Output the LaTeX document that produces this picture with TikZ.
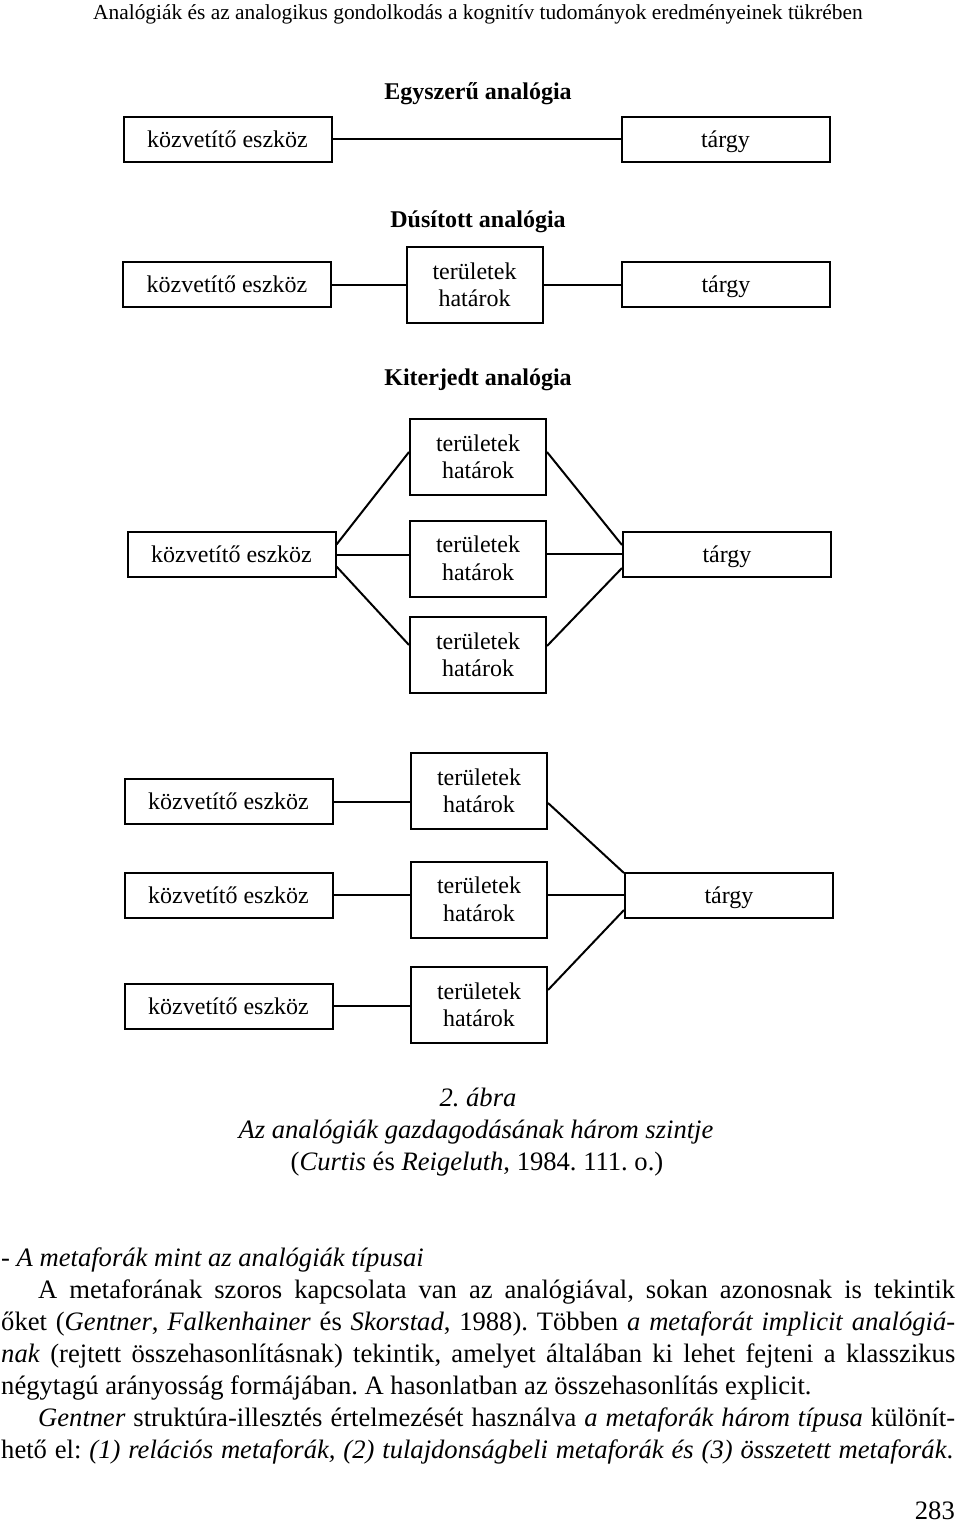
\documentclass[tikz,border=0pt]{standalone}
\usepackage{fontspec}
\setmainfont{Liberation Serif}
\usetikzlibrary{calc,positioning}
\frenchspacing
\tikzset{
	%Define style for boxes
	doboz/.style={
		rectangle,
		draw=black, line width=2pt,
		minimum width=208pt,
		minimum height=45pt,
		text height=20pt, text depth=4pt,
		inner sep=0pt,
		font=\fontsize{24}{27.5}\selectfont},
	terulet/.style={
		rectangle,
		draw=black, line width=2pt,
		minimum width=136pt,
		minimum height=76pt,
		inner sep=0pt,
		align=center,
		font=\fontsize{24}{27.5}\selectfont},
	%Define style for texts
	cim/.style={anchor=base, inner sep=0pt, font=\fontsize{24}{28}\selectfont\bfseries},
	alairas/.style={anchor=base, inner sep=0pt, font=\fontsize{26.6}{32}\selectfont},
	szoveg/.style={anchor=base west, inner sep=0pt, font=\fontsize{26.6}{32}\selectfont},
	% Define line style
	vonal/.style={line width=2pt}
}

\begin{document}
\begin{tikzpicture}[x=1pt,y=-1pt]
	\fill[white] (0,0) rectangle (960,1525);
	% header
	\node[anchor=base, inner sep=0pt, font=\fontsize{21.4}{24}\selectfont] (fejlec) at (478,20) {Analógiák és az analogikus gondolkodás a kognitív tudományok eredményeinek tükrében};
	% Egyszeru analogia
	\node[cim] (cim1) at (478,100) {Egyszerű analógia};
	\node[doboz] (kozv1) at (227.5,139.5) {közvetítő eszköz};
	\node[doboz] (targy1) at (725.5,139.5) {tárgy};
	\draw[vonal] (kozv1) -- (targy1);
	% Dusitott analogia
	\node[cim] (cim2) at (478,227) {Dúsított analógia};
	\node[doboz] (kozv2) at (227,284.5) {közvetítő eszköz};
	\node[terulet] (mid2) at (474.5,285) {területek\\határok};
	\node[doboz] (targy2) at (726,284.5) {tárgy};
	\draw[vonal] (kozv2.east) -- (kozv2.east -| mid2.west);
	\draw[vonal] (mid2.east |- targy2.west) -- (targy2.west);
	% Kiterjedt analogia
	\node[cim] (cim3) at (478,385) {Kiterjedt analógia};
	\node[doboz] (kozv3) at (231.5,554.5) {közvetítő eszköz};
	\node[terulet] (mid3a) at (478,457) {területek\\határok};
	\node[terulet] (mid3b) at (478,558.5) {területek\\határok};
	\node[terulet] (mid3c) at (478,655) {területek\\határok};
	\node[doboz] (targy3) at (727,554) {tárgy};
	\draw[vonal] ([yshift=10pt]kozv3.east) -- ([yshift=5pt]mid3a.west);
	\draw[vonal] (kozv3.east) -- (kozv3.east -| mid3b.west);
	\draw[vonal] ([yshift=-12pt]kozv3.east) -- ([yshift=10pt]mid3c.west);
	\draw[vonal] ([yshift=5pt]mid3a.east) -- ([yshift=9pt]targy3.west);
	\draw[vonal] (mid3b.east |- targy3.west) -- (targy3.west);
	\draw[vonal] ([yshift=9pt]mid3c.east) -- ([yshift=-14pt]targy3.west);
	% negyedik abra
	\node[doboz] (kozv4a) at (228.5,801.5) {közvetítő eszköz};
	\node[doboz] (kozv4b) at (228.5,895) {közvetítő eszköz};
	\node[doboz] (kozv4c) at (228.5,1006) {közvetítő eszköz};
	\node[terulet] (mid4a) at (479,791) {területek\\határok};
	\node[terulet] (mid4b) at (479,899.5) {területek\\határok};
	\node[terulet] (mid4c) at (479,1005) {területek\\határok};
	\node[doboz] (targy4) at (729,895) {tárgy};
	\draw[vonal] (kozv4a.east) -- (kozv4a.east -| mid4a.west);
	\draw[vonal] (kozv4b.east) -- (kozv4b.east -| mid4b.west);
	\draw[vonal] (kozv4c.east) -- (kozv4c.east -| mid4c.west);
	\draw[vonal] ([yshift=-12pt]mid4a.east) -- ([yshift=22pt]targy4.west);
	\draw[vonal] (mid4b.east |- targy4.west) -- (targy4.west);
	\draw[vonal] ([yshift=15pt]mid4c.east) -- ([yshift=-15pt]targy4.west);
	% caption
	\node[alairas] (abra) at (478,1106) {\textit{2. ábra}};
	\node[alairas] (abracim) at (476,1138) {\textit{Az analógiák gazdagodásának három szintje}};
	\node[alairas] (forras) at (477,1170) {(\textit{Curtis} és \textit{Reigeluth}, 1984. 111. o.)};
	% body text
	\node[szoveg] (sor1) at (1,1266) {- \textit{A metaforák mint az analógiák típusai}};
	\node[szoveg] (sor2) at (38,1298) {\makebox[917pt][s]{A metaforának szoros kapcsolata van az analógiával, sokan azonosnak is tekintik}};
	\node[szoveg] (sor3) at (1,1330) {\makebox[954pt][s]{őket (\textit{Gentner}, \textit{Falkenhainer} és \textit{Skorstad}, 1988). Többen \textit{a metaforát implicit analógiá-}}};
	\node[szoveg] (sor4) at (1,1362) {\makebox[954pt][s]{\textit{nak} (rejtett összehasonlításnak) tekintik, amelyet általában ki lehet fejteni a klasszikus}};
	\node[szoveg] (sor5) at (1,1394) {négytagú arányosság formájában. A hasonlatban az összehasonlítás explicit.};
	\node[szoveg] (sor6) at (38,1426) {\makebox[917pt][s]{\textit{Gentner} struktúra-illesztés értelmezését használva \textit{a metaforák három típusa} különít-}};
	\node[szoveg] (sor7) at (1,1458) {\makebox[952pt][s]{hető el: \textit{(1) relációs metaforák, (2) tulajdonságbeli metaforák és (3) összetett metaforák}.}};
	% page number
	\node[anchor=base east, inner sep=0pt, font=\fontsize{26.6}{32}\selectfont] (oldal) at (955,1519) {283};
\end{tikzpicture}
\end{document}
